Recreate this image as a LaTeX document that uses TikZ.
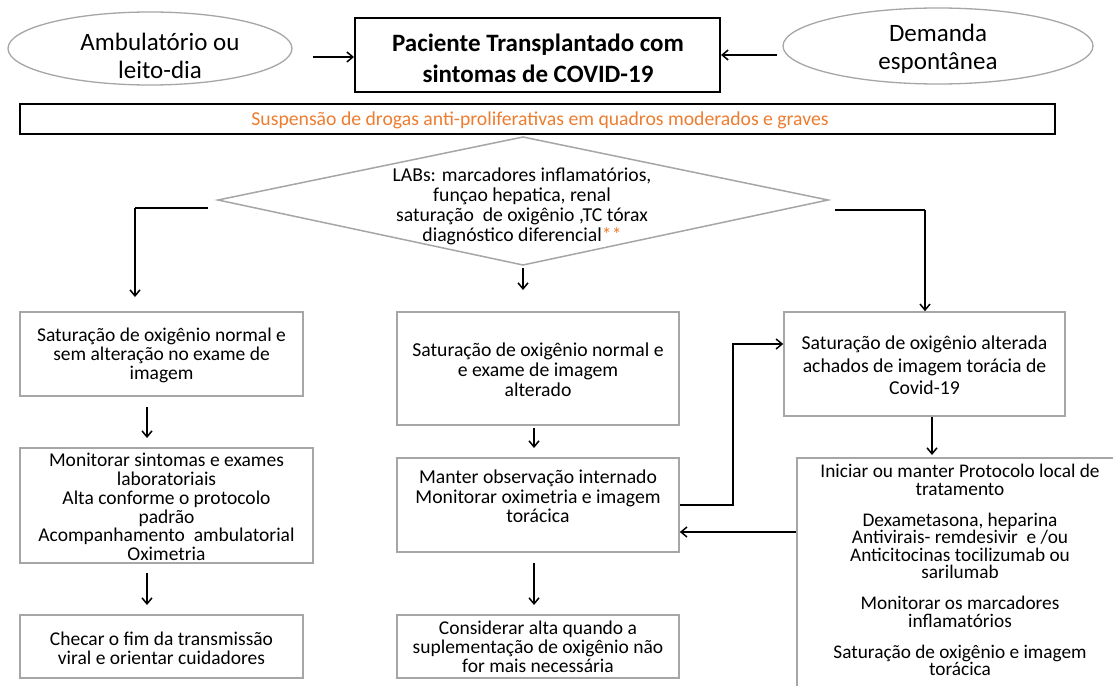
\documentclass[tikz,border=0pt]{standalone}
\usepackage{fontspec}
\setmainfont{Carlito}
\usetikzlibrary{shapes.geometric,arrows.meta}
\definecolor{bordergray}{RGB}{166,166,166}
\definecolor{orng}{RGB}{237,125,49}
\begin{document}
\begin{tikzpicture}[x=1pt,y=-1pt,
  gbox/.style={draw=bordergray,line width=1.6pt,rectangle,inner sep=0pt},
  ell/.style={draw=bordergray,line width=1.3pt,ellipse,inner sep=0pt},
  arr/.style={-{Straight Barb[length=6pt,width=10pt,line width=1.5pt]},line width=1.5pt},
  txt/.style={align=center,inner sep=0pt,font=\fontsize{19.5}{18.8}\selectfont},
  txtw/.style={align=center,inner sep=0pt,font=\fontsize{19.7}{20}\selectfont},
]
\useasboundingbox (0,0) rectangle (1113,685);
\fill[white] (0,0) rectangle (1113,685);

% top row
\node[ell,minimum width=284pt,minimum height=73pt] (amb) at (150,48.5) {};
\node[align=center,inner sep=0pt,font=\fontsize{25}{28}\selectfont] (ambt) at (160,56) {Ambulatório ou\\leito-dia};
\node[ell,minimum width=310pt,minimum height=76pt] (dem) at (938,46) {};
\node[align=center,inner sep=0pt,font=\fontsize{25}{28}\selectfont] (demt) at (938,49) {Demanda\\espontânea};
\node[draw=black,line width=2pt,rectangle,minimum width=365pt,minimum height=74pt,inner sep=0pt] (pac) at (537.5,55) {};
\node[align=center,inner sep=0pt,font=\fontsize{25}{31}\selectfont\bfseries] (pact) at (538,58) {Paciente Transplantado com\\sintomas de COVID-19};
\draw[arr] (amb.east |- 0,57) ++(20,0) coordinate (a1) -- (pac.west |- a1);
\draw[arr] (dem.west) ++(-5,9) coordinate (a2) -- (pac.east |- a2);

% bar
\node[draw=black,line width=1.5pt,rectangle,minimum width=1035pt,minimum height=30pt,inner sep=0pt] (bar) at (537.5,119) {};
\node[inner sep=0pt,text=orng,font=\fontsize{19.7}{20}\selectfont] (bart) at (540,120.5) {Suspensão de drogas anti-proliferativas em quadros moderados e graves};

% diamond
\coordinate (dl) at (218,200);
\coordinate (dr) at (828,200);
\coordinate (dt) at (523,137);
\coordinate (db) at (523,265);
\draw[draw=bordergray,line width=1.5pt] (dl) -- (dt) -- (dr) -- (db) -- cycle;
\node[txtw] (lab) at (522,206) {LABs: marcadores inflamatórios,\\funçao hepatica, renal\\saturação~ de oxigênio ,TC tórax\\diagnóstico diferencial\textcolor{orng}{**}};

% boxes
\node[gbox,minimum width=283pt,minimum height=84pt] (l1) at (161.5,354) {};
\node[txt] (l1t) at (161.5,355.5) {Saturação de oxigênio normal e\\sem alteração no exame de\\imagem};
\node[gbox,minimum width=293pt,minimum height=115pt] (l2) at (166.5,505.5) {};
\node[txt] (l2t) at (166.5,507) {Monitorar sintomas e exames\\laboratoriais\\Alta conforme o protocolo\\padrão\\Acompanhamento~ ambulatorial\\Oximetria};
\node[gbox,minimum width=283pt,minimum height=63pt] (l3) at (161.5,646.5) {};
\node[txt] (l3t) at (161.5,648) {Checar o fim da transmissão\\viral e orientar cuidadores};

\node[gbox,minimum width=282pt,minimum height=113pt] (m1) at (538,368.5) {};
\node[txtw] (m1t) at (538,370) {Saturação de oxigênio normal e\\e exame de imagem\\alterado};
\node[gbox,minimum width=282pt,minimum height=94pt] (m2) at (538,505) {};
\node[txtw,font=\fontsize{19.7}{19.5}\selectfont] (m2t) at (538,496.5) {Manter observação internado\\Monitorar oximetria e imagem\\torácica};
\node[gbox,minimum width=282pt,minimum height=63pt] (m3) at (538,646.5) {};
\node[txt] (m3t) at (538,647) {Considerar alta quando a\\suplementação de oxigênio não\\for mais necessária};

\node[gbox,minimum width=281pt,minimum height=104pt] (r1) at (924.5,364) {};
\node[txtw,font=\fontsize{19.7}{22.5}\selectfont] (r1t) at (924.5,365.5) {Saturação de oxigênio alterada\\achados de imagem torácia de\\Covid-19};
\node[gbox,minimum width=326pt,minimum height=240pt] (r2) at (960,578) {};
\node[txt,anchor=north,font=\fontsize{19.3}{17.5}\selectfont] (r2t) at (960,464) {Iniciar ou manter Protocolo local de\\tratamento\\[13.5pt]Dexametasona, heparina\\Antivirais- remdesivir~ e /ou\\Anticitocinas tocilizumab ou\\sarilumab\\[13.5pt]Monitorar os marcadores\\inflamatórios\\[13.5pt]Saturação de oxigênio e imagem\\torácica};

% connectors
\draw[line width=1.5pt] (dl) ++(-10,8) coordinate (d1) -- (135,208) coordinate (d1b);
\draw[arr] (d1b) -- (d1b |- 297,297);
\draw[arr] (db) ++(0,3) -- (523,290);
\draw[line width=1.5pt] (dr) ++(7,10) coordinate (d2) -- (925,210) coordinate (d2b);
\draw[arr] (d2b) -- (r1.north -| d2b);

\draw[arr] (147,407) -- (147,438);
\draw[arr] (147,573) -- (147,605);
\draw[arr] (534,428) -- (534,448);
\draw[arr] (534,563) -- (534,605);
\draw[arr] (r1.south -| 932,0) -- (932,455);

\draw[arr] (m2.east |- 0,505) -- (733,505) -- (733,344) -- (r1.west |- 0,344);
\draw[arr] (r2.west |- 0,532) -- (m2.east |- 0,532);
\end{tikzpicture}
\end{document}
